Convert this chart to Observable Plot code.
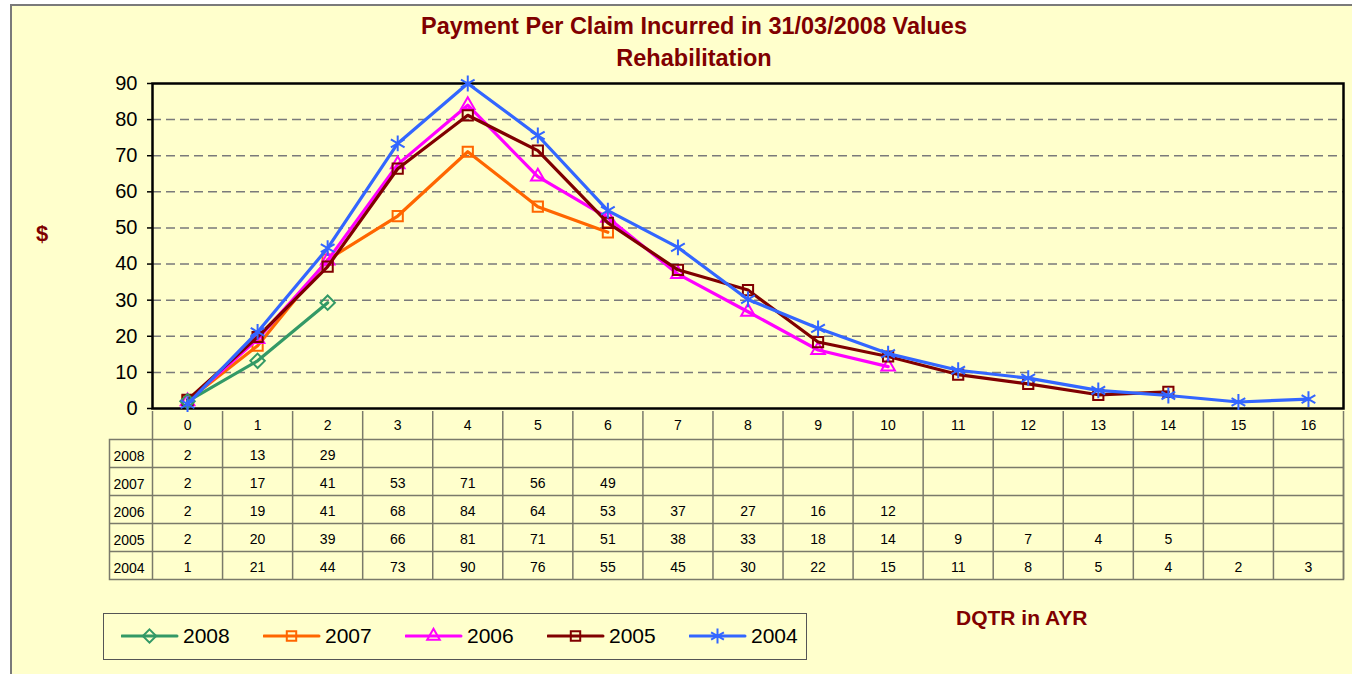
<!DOCTYPE html>
<html>
<head>
<meta charset="utf-8">
<script src="https://cdn.jsdelivr.net/npm/d3@7"></script>
<script src="https://cdn.jsdelivr.net/npm/@observablehq/plot@0.6"></script>
<style>
  html, body { margin: 0; padding: 0; background: #ffffff; }
  #wrap { position: relative; width: 1352px; height: 674px; overflow: hidden; font-family: Arial, "Liberation Sans", sans-serif; }
  #panel { position: absolute; left: 10px; top: 4px; width: 1360px; height: 690px; background: #FFFFCC; border-top: 2px solid #7a7a7a; border-left: 2px solid #7a7a7a; }
  .abs { position: absolute; }
  #title { left: 294px; width: 800px; top: 10px; text-align: center; color: #800000; font-weight: bold; font-size: 23.5px; line-height: 32px; }
  #ylab { left: 36px; top: 221px; color: #800000; font-weight: bold; font-size: 22px; }
  #xlab { left: 956px; top: 606px; color: #800000; font-weight: bold; font-size: 21px; }
  #legend { left: 103px; top: 613px; width: 704px; height: 47px; border: 1px solid #555555; box-sizing: border-box; }
  .item { position: absolute; top: 0; height: 44px; }
  .item svg { position: absolute; top: 12px; left: 0; }
  .item span { position: absolute; left: 62px; top: 10px; font-size: 21px; color: #000; line-height: 24px; }
  svg.plotsvg { position: absolute; left: 0; top: 0; }
</style>
</head>
<body>
<div id="wrap">
  <div id="panel"></div>
  <div id="title" class="abs">Payment Per Claim Incurred in 31/03/2008 Values<br>Rehabilitation</div>
  <div id="ylab" class="abs">$</div>
  <div id="xlab" class="abs">DQTR in AYR</div>
  <div id="legend" class="abs"></div>
</div>
<script>
// ---- data ----
const dqtrLabels = ["0","1","2","3","4","5","6","7","8","9","10","11","12","13","14","15","16"];
const years = ["2008", "2007", "2006", "2005", "2004"];
const v2008 = [2.0, 13.2, 29.3];
const v2007 = [2.2, 17.4, 41.2, 53.3, 71.1, 55.9, 48.8];
const v2006 = [2.0, 19.2, 41.0, 67.6, 84.0, 64.2, 52.8, 37.2, 26.8, 16.2, 11.6];
const v2005 = [2.4, 19.8, 39.3, 66.4, 81.2, 71.4, 51.4, 38.4, 32.8, 18.4, 14.4, 9.4, 6.8, 3.8, 4.6];
const v2004 = [1.2, 21.2, 44.4, 73.4, 90.0, 75.6, 54.8, 44.6, 30.2, 22.2, 15.2, 10.6, 8.4, 5.0, 3.6, 1.8, 2.6];
const yTicks = [0, 10, 20, 30, 40, 50, 60, 70, 80, 90];

// ---- styles ----
const seriesValues = {"2008": v2008, "2007": v2007, "2006": v2006, "2005": v2005, "2004": v2004};
const colors = {"2008": "#339966", "2007": "#FF6600", "2006": "#FF00FF", "2005": "#800000", "2004": "#3366FF"};
const symbols = {"2008": "diamond2", "2007": "square2", "2006": "triangle2", "2005": "square2", "2004": "asterisk"};
const d3symbols = {"2008": d3.symbolDiamond2, "2007": d3.symbolSquare2, "2006": d3.symbolTriangle2, "2005": d3.symbolSquare2, "2004": d3.symbolAsterisk};
const drawOrder = ["2007", "2006", "2005", "2008", "2004"];
const font = "Arial, 'Liberation Sans', sans-serif";

const long = years.flatMap((yr, i) => seriesValues[yr].map((v, k) => ({year: yr, row: i, dqtr: k, value: v})));
const wrap = document.getElementById("wrap");

// ---- main chart ----
const seriesMarks = drawOrder.flatMap(yr => {
  const d = long.filter(r => r.year === yr);
  return [
    Plot.line(d, {x: "dqtr", y: "value", stroke: colors[yr], strokeWidth: 3.2, strokeLinejoin: "round"}),
    Plot.dot(d, {x: "dqtr", y: "value", symbol: symbols[yr], stroke: colors[yr], r: yr === "2004" ? 7.5 : 6.5, strokeWidth: 2, fill: "none"})
  ];
});

const chart = Plot.plot({
  width: 1352, height: 420,
  marginLeft: 152, marginRight: 9, marginTop: 83, marginBottom: 12,
  style: {background: "transparent", fontFamily: font, overflow: "visible", color: "#000"},
  x: {domain: [-0.5, dqtrLabels.length - 0.5], axis: null},
  y: {domain: [0, 90], axis: null},
  marks: [
    Plot.ruleY(yTicks.slice(1, -1), {stroke: "#7a7a7a", strokeWidth: 1.5, strokeDasharray: "9,5"}),
    Plot.frame({stroke: "#000", strokeWidth: 2.5}),
    Plot.axisY(yTicks, {tickSize: 5, tickPadding: 10, fontSize: 20, label: null, strokeWidth: 1.5}),
    ...seriesMarks
  ]
});
chart.classList.add("plotsvg");
wrap.appendChild(chart);

// ---- data table ----
const colEdges = d3.range(dqtrLabels.length + 1).map(k => k - 0.5);
const header = dqtrLabels.map((t, k) => ({dqtr: k, label: t}));
const table = Plot.plot({
  width: 1352, height: 674,
  marginLeft: 109, marginRight: 9, marginTop: 439, marginBottom: 95,
  style: {background: "transparent", fontFamily: font, overflow: "visible", color: "#000"},
  x: {domain: [-0.5, dqtrLabels.length - 0.5], range: [152, 1343], axis: null},
  y: {domain: [0, years.length + 1], range: [411, 579], axis: null},
  marks: [
    Plot.ruleY(d3.range(2, years.length + 1), {stroke: "#7a7a6a", strokeWidth: 1.5}),
    Plot.ruleX(colEdges, {x: d => d, y1: 0, y2: years.length + 1, stroke: "#7a7a6a", strokeWidth: 1.5}),
    Plot.frame({stroke: "#7a7a6a", strokeWidth: 1.5}),
    Plot.text(header, {x: "dqtr", y: 0.5, text: "label", fontSize: 14, fill: "#000"}),
    Plot.text(long, {x: "dqtr", y: d => d.row + 1.5, text: d => d3.format(".0f")(d.value), fontSize: 14, fill: "#000", dy: 2}),
    Plot.text(years, {frameAnchor: "left", y: (d, i) => i + 1.5, text: d => d, dx: 4, dy: 3, textAnchor: "start", fontSize: 14, fill: "#000"})
  ]
});
table.classList.add("plotsvg");
wrap.appendChild(table);

// ---- legend ----
const legend = d3.select("#legend");
years.forEach((yr, i) => {
  const item = legend.append("div").attr("class", "item").style("left", (17 + i * 142) + "px");
  const svg = item.append("svg").attr("width", 58).attr("height", 20);
  svg.append("line").attr("x1", 1).attr("x2", 56).attr("y1", 10).attr("y2", 10)
    .attr("stroke", colors[yr]).attr("stroke-width", 3).attr("stroke-linecap", "round");
  const r = yr === "2004" ? 7 : 6;
  svg.append("path").attr("transform", "translate(28.5,10)")
    .attr("d", d3.symbol(d3symbols[yr], r * r * Math.PI)())
    .attr("fill", "none").attr("stroke", colors[yr]).attr("stroke-width", 2);
  item.append("span").text(yr);
});
</script>
</body>
</html>
